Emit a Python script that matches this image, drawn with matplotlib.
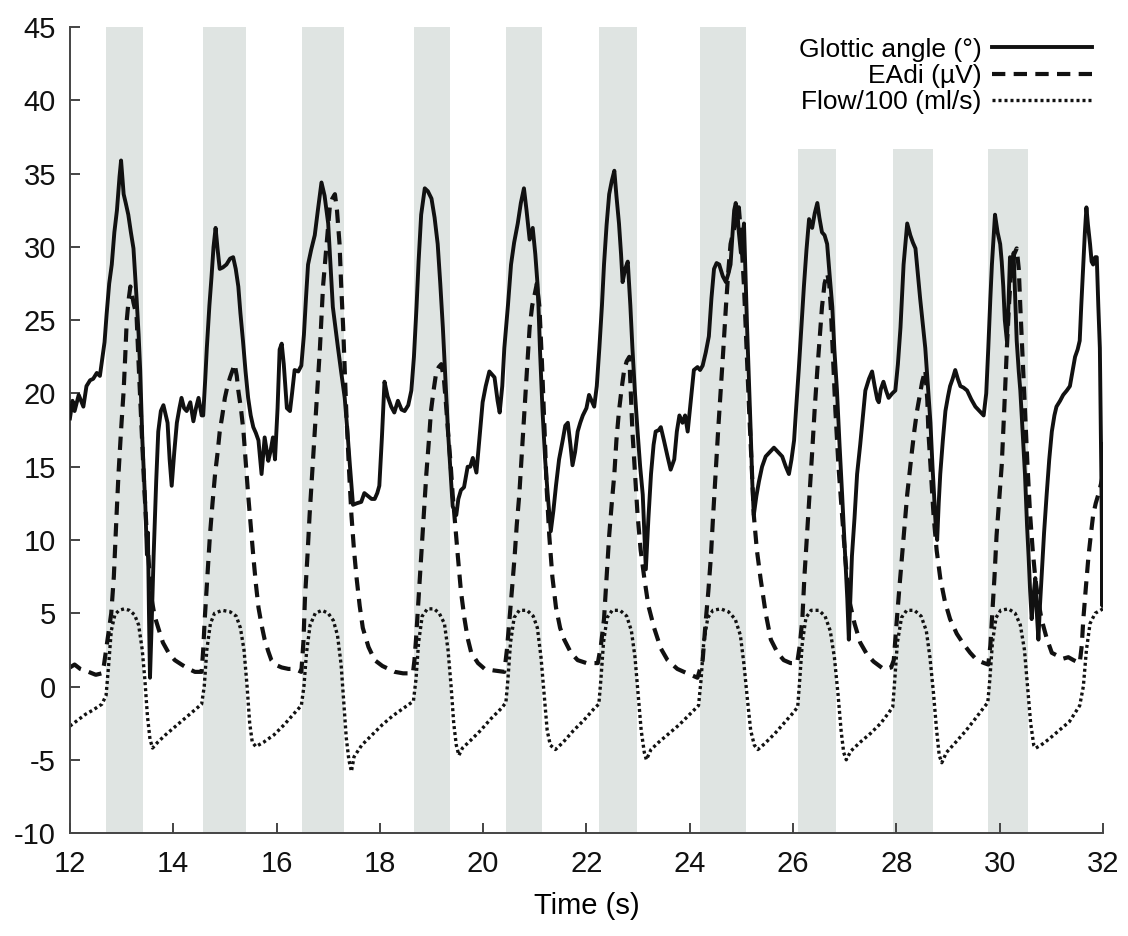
import matplotlib
matplotlib.use("Agg")
import matplotlib.pyplot as plt

plt.rcParams["font.family"] = ["Liberation Sans", "DejaVu Sans"]
plt.rcParams["axes.unicode_minus"] = False

# inspiration bands (s) and their top (legend area cuts the last three)
band_start = [12.70, 14.57, 16.50, 18.67, 20.44, 22.24, 24.19, 26.09, 27.94, 29.78]
band_end = [13.41, 15.40, 17.31, 19.36, 21.14, 22.98, 25.08, 26.84, 28.71, 30.55]
band_top = [45, 45, 45, 45, 45, 45, 45, 36.7, 36.7, 36.7]

# glottic angle (deg)
glottic_t = [
    12.00, 12.05, 12.09, 12.17, 12.26, 12.32, 12.39, 12.45, 12.52, 12.58, 12.62, 12.67, 12.71, 12.76,
    12.81, 12.86, 12.91, 12.96, 12.99, 13.02, 13.04, 13.08, 13.13, 13.18, 13.23, 13.29, 13.33, 13.36,
    13.40, 13.46, 13.49, 13.51, 13.53, 13.55, 13.58, 13.62, 13.67, 13.71, 13.76, 13.81, 13.85, 13.89,
    13.93, 13.97, 14.02, 14.07, 14.12, 14.16, 14.21, 14.26, 14.33, 14.39, 14.44, 14.49, 14.55, 14.58,
    14.62, 14.65, 14.70, 14.74, 14.78, 14.82, 14.86, 14.90, 14.96, 15.03, 15.10, 15.16, 15.21, 15.26,
    15.30, 15.35, 15.40, 15.45, 15.50, 15.55, 15.60, 15.65, 15.71, 15.77, 15.84, 15.88, 15.93, 15.97,
    16.02, 16.06, 16.10, 16.14, 16.20, 16.26, 16.30, 16.35, 16.42, 16.48, 16.53, 16.57, 16.61, 16.67,
    16.74, 16.80, 16.87, 16.93, 17.00, 17.05, 17.09, 17.14, 17.19, 17.25, 17.32, 17.37, 17.42, 17.48,
    17.55, 17.64, 17.70, 17.77, 17.84, 17.90, 17.95, 17.99, 18.04, 18.09, 18.15, 18.22, 18.28, 18.35,
    18.42, 18.48, 18.55, 18.61, 18.66, 18.71, 18.75, 18.80, 18.87, 18.93, 19.00, 19.06, 19.12, 19.17,
    19.22, 19.27, 19.32, 19.37, 19.41, 19.48, 19.52, 19.57, 19.63, 19.70, 19.75, 19.80, 19.87, 19.93,
    19.99, 20.05, 20.12, 20.17, 20.22, 20.28, 20.32, 20.37, 20.41, 20.48, 20.54, 20.60, 20.67, 20.73,
    20.79, 20.84, 20.90, 20.96, 21.01, 21.06, 21.10, 21.15, 21.20, 21.25, 21.31, 21.36, 21.41, 21.47,
    21.54, 21.59, 21.64, 21.69, 21.73, 21.78, 21.83, 21.88, 21.93, 22.00, 22.05, 22.10, 22.15, 22.20,
    22.25, 22.30, 22.34, 22.39, 22.44, 22.49, 22.54, 22.58, 22.63, 22.67, 22.70, 22.75, 22.80, 22.85,
    22.89, 22.94, 22.99, 23.04, 23.09, 23.12, 23.15, 23.20, 23.25, 23.30, 23.34, 23.40, 23.44, 23.50,
    23.57, 23.63, 23.70, 23.75, 23.80, 23.86, 23.91, 23.96, 24.02, 24.08, 24.15, 24.20, 24.25, 24.31,
    24.37, 24.42, 24.47, 24.52, 24.57, 24.64, 24.70, 24.75, 24.79, 24.83, 24.86, 24.89, 24.92, 24.95,
    24.99, 25.02, 25.05, 25.08, 25.11, 25.15, 25.18, 25.21, 25.24, 25.29, 25.34, 25.40, 25.47, 25.55,
    25.63, 25.71, 25.79, 25.86, 25.92, 25.97, 26.02, 26.06, 26.11, 26.16, 26.21, 26.26, 26.31, 26.37,
    26.42, 26.47, 26.51, 26.56, 26.61, 26.66, 26.71, 26.76, 26.80, 26.85, 26.90, 26.95, 27.00, 27.05,
    27.08, 27.11, 27.14, 27.19, 27.24, 27.30, 27.34, 27.40, 27.47, 27.53, 27.58, 27.63, 27.66, 27.70,
    27.75, 27.80, 27.85, 27.92, 27.98, 28.03, 28.08, 28.14, 28.21, 28.27, 28.32, 28.37, 28.42, 28.46,
    28.51, 28.56, 28.61, 28.66, 28.70, 28.73, 28.76, 28.79, 28.82, 28.85, 28.90, 28.95, 29.00, 29.04,
    29.09, 29.14, 29.19, 29.24, 29.30, 29.37, 29.45, 29.53, 29.61, 29.69, 29.74, 29.78, 29.82, 29.85,
    29.88, 29.91, 29.96, 30.01, 30.04, 30.07, 30.10, 30.14, 30.17, 30.20, 30.24, 30.27, 30.30, 30.33,
    30.37, 30.40, 30.45, 30.49, 30.53, 30.56, 30.59, 30.62, 30.65, 30.69, 30.72, 30.75, 30.78, 30.81,
    30.86, 30.91, 30.96, 31.01, 31.06, 31.10, 31.17, 31.23, 31.30, 31.36, 31.41, 31.46, 31.51, 31.55,
    31.58, 31.62, 31.65, 31.68, 31.71, 31.75, 31.78, 31.81, 31.85, 31.88, 31.91, 31.94, 31.97, 31.99,
    32.00]
glottic_v = [
    18.3, 19.5, 18.8, 19.9, 19.1, 20.5, 20.9, 21.0, 21.4, 21.2, 22.2, 23.5, 25.4, 27.5,
    28.8, 31.0, 32.5, 34.8, 35.9, 34.5, 33.6, 33.0, 32.2, 31.0, 29.9, 26.5, 24.0, 21.6,
    17.0, 12.3, 9.0, 10.5, 5.0, 0.6, 4.0, 8.9, 14.0, 17.4, 18.8, 19.2, 18.6, 18.0,
    15.5, 13.7, 16.0, 18.0, 19.0, 19.7, 19.0, 18.8, 19.4, 18.1, 19.0, 19.7, 18.5, 18.5,
    21.0, 23.1, 26.0, 27.9, 30.0, 31.3, 29.8, 28.5, 28.6, 28.8, 29.2, 29.3, 28.5, 27.3,
    25.5, 23.6, 21.5, 19.7, 18.5, 17.7, 17.3, 16.8, 14.5, 17.0, 15.4, 16.0, 17.0, 15.5,
    19.0, 23.0, 23.4, 22.0, 19.0, 18.8, 20.0, 21.6, 21.5, 21.9, 24.0, 26.5, 28.8, 29.8,
    30.8, 32.5, 34.4, 33.5, 31.6, 28.5, 25.9, 24.5, 23.1, 21.5, 19.7, 17.5, 15.1, 12.4,
    12.5, 12.6, 13.2, 13.0, 12.8, 12.8, 13.2, 13.7, 17.0, 20.8, 19.8, 19.1, 18.7, 19.5,
    18.9, 18.8, 19.2, 20.2, 22.5, 25.9, 29.0, 32.2, 34.0, 33.8, 33.3, 32.0, 30.2, 27.5,
    24.5, 21.0, 17.4, 14.5, 12.3, 11.7, 12.8, 13.4, 13.6, 15.0, 15.0, 15.6, 14.6, 17.0,
    19.4, 20.5, 21.5, 21.3, 21.1, 19.5, 18.7, 20.5, 23.1, 26.0, 28.8, 30.3, 31.6, 33.0,
    34.0, 32.5, 30.5, 31.3, 29.5, 27.1, 23.0, 18.8, 15.5, 13.1, 10.6, 12.0, 13.7, 15.5,
    16.8, 17.8, 18.0, 16.5, 15.1, 16.0, 17.4, 18.0, 18.5, 19.0, 19.9, 19.5, 19.1, 20.5,
    23.1, 26.0, 28.8, 31.5, 33.6, 34.5, 35.2, 33.5, 31.6, 29.5, 27.6, 28.5, 29.0, 26.0,
    23.1, 20.0, 17.4, 15.0, 13.1, 10.5, 8.0, 11.5, 14.5, 16.5, 17.4, 17.5, 17.7, 16.8,
    15.7, 14.8, 15.5, 17.4, 18.5, 18.0, 18.5, 17.4, 19.5, 21.6, 21.8, 21.6, 21.9, 22.8,
    23.9, 26.5, 28.5, 28.9, 28.8, 28.0, 27.6, 28.2, 28.8, 31.0, 32.5, 33.0, 32.5, 31.0,
    29.6, 30.5, 31.6, 28.0, 24.5, 20.5, 17.4, 14.0, 11.7, 13.0, 14.0, 15.0, 15.7, 16.0,
    16.3, 16.0, 15.7, 15.0, 14.5, 15.5, 16.8, 19.0, 21.6, 24.5, 27.3, 29.8, 31.9, 31.3,
    32.3, 33.0, 32.0, 31.0, 30.8, 30.2, 28.0, 25.9, 23.0, 20.2, 16.5, 13.1, 9.5, 6.0,
    3.2, 6.0, 8.9, 11.5, 14.5, 16.5, 18.0, 20.2, 21.0, 21.5, 20.5, 19.6, 19.4, 20.3,
    20.8, 20.2, 19.7, 20.0, 20.2, 22.0, 24.5, 28.8, 31.6, 30.8, 30.3, 29.9, 28.0, 26.5,
    24.8, 23.1, 20.5, 18.0, 15.0, 13.1, 11.0, 10.0, 12.5, 14.5, 16.8, 18.8, 19.8, 20.5,
    21.0, 21.6, 21.0, 20.5, 20.4, 20.2, 19.6, 19.1, 18.8, 18.5, 20.0, 23.1, 26.5, 28.8,
    30.5, 32.2, 31.0, 30.2, 29.0, 27.3, 25.0, 23.6, 26.0, 29.3, 28.0, 29.6, 26.5, 23.6,
    21.5, 20.2, 17.0, 14.5, 11.0, 8.9, 6.5, 4.6, 6.0, 7.4, 5.0, 3.2, 5.5, 7.4,
    10.5, 13.1, 15.5, 17.4, 18.5, 19.1, 19.5, 19.9, 20.2, 20.5, 21.5, 22.5, 23.0, 23.6,
    26.0, 28.8, 31.0, 32.7, 31.5, 30.2, 29.0, 28.8, 29.3, 29.3, 26.0, 23.1, 14.0, 5.5,
    16.5]

# diaphragm electrical activity (uV)
eadi_t = [
    12.00, 12.09, 12.20, 12.36, 12.50, 12.62, 12.66, 12.72, 12.80, 12.85, 12.90, 12.94, 12.99, 13.04,
    13.07, 13.10, 13.14, 13.17, 13.20, 13.23, 13.29, 13.33, 13.39, 13.44, 13.49, 13.54, 13.58, 13.64,
    13.71, 13.80, 13.91, 14.03, 14.16, 14.30, 14.42, 14.55, 14.58, 14.61, 14.66, 14.71, 14.76, 14.81,
    14.86, 14.90, 14.95, 15.00, 15.05, 15.10, 15.15, 15.19, 15.23, 15.26, 15.31, 15.36, 15.40, 15.45,
    15.50, 15.55, 15.60, 15.65, 15.71, 15.77, 15.84, 15.90, 15.97, 16.10, 16.23, 16.35, 16.48, 16.52,
    16.55, 16.60, 16.64, 16.69, 16.74, 16.79, 16.84, 16.90, 16.97, 17.03, 17.08, 17.13, 17.17, 17.22,
    17.25, 17.29, 17.35, 17.40, 17.45, 17.50, 17.55, 17.61, 17.67, 17.78, 17.90, 18.05, 18.29, 18.45,
    18.64, 18.67, 18.70, 18.75, 18.80, 18.85, 18.90, 18.95, 18.99, 19.04, 19.09, 19.14, 19.19, 19.24,
    19.28, 19.32, 19.37, 19.41, 19.46, 19.51, 19.57, 19.64, 19.70, 19.77, 19.90, 20.03, 20.20, 20.41,
    20.46, 20.51, 20.56, 20.61, 20.65, 20.70, 20.75, 20.80, 20.85, 20.90, 20.95, 21.00, 21.04, 21.09,
    21.14, 21.19, 21.23, 21.28, 21.34, 21.41, 21.49, 21.57, 21.70, 21.83, 22.00, 22.22, 22.28, 22.34,
    22.39, 22.44, 22.49, 22.54, 22.58, 22.63, 22.68, 22.73, 22.78, 22.83, 22.86, 22.89, 22.94, 22.99,
    23.05, 23.12, 23.20, 23.31, 23.44, 23.57, 23.76, 23.95, 24.15, 24.25, 24.31, 24.36, 24.41, 24.45,
    24.50, 24.55, 24.60, 24.65, 24.70, 24.75, 24.79, 24.84, 24.89, 24.95, 25.00, 25.05, 25.10, 25.15,
    25.20, 25.24, 25.30, 25.37, 25.47, 25.57, 25.70, 25.82, 25.95, 26.08, 26.13, 26.18, 26.22, 26.27,
    26.32, 26.37, 26.42, 26.47, 26.52, 26.56, 26.61, 26.66, 26.70, 26.73, 26.78, 26.82, 26.88, 26.95,
    27.01, 27.08, 27.19, 27.30, 27.43, 27.56, 27.75, 27.90, 27.95, 28.01, 28.06, 28.11, 28.16, 28.21,
    28.26, 28.30, 28.35, 28.40, 28.45, 28.50, 28.56, 28.60, 28.62, 28.67, 28.72, 28.78, 28.85, 28.94,
    29.04, 29.17, 29.30, 29.43, 29.56, 29.70, 29.78, 29.82, 29.85, 29.90, 29.94, 29.99, 30.04, 30.09,
    30.14, 30.18, 30.23, 30.28, 30.33, 30.37, 30.40, 30.45, 30.49, 30.54, 30.59, 30.64, 30.69, 30.75,
    30.81, 30.91, 31.01, 31.12, 31.23, 31.33, 31.43, 31.55, 31.59, 31.62, 31.67, 31.72, 31.77, 31.81,
    31.86, 31.91, 31.96, 32.00]
eadi_v = [
    1.3, 1.5, 1.2, 1.0, 0.8, 0.9, 1.5, 3.0, 5.0, 7.5, 11.5, 14.5, 17.5, 20.2,
    22.5, 25.0, 26.5, 27.3, 26.8, 26.2, 25.3, 22.0, 17.4, 13.5, 10.3, 7.8, 6.0, 4.8,
    4.0, 3.0, 2.3, 1.8, 1.5, 1.2, 1.0, 1.0, 2.5, 4.6, 7.5, 10.3, 12.5, 14.5,
    16.0, 17.4, 18.5, 19.7, 20.5, 21.1, 21.6, 22.0, 21.2, 20.2, 19.0, 17.4, 15.5, 13.1,
    11.0, 8.9, 7.0, 5.4, 4.2, 3.2, 2.4, 1.8, 1.5, 1.3, 1.2, 1.2, 1.0, 3.0,
    6.0, 9.0, 11.7, 14.5, 17.4, 20.3, 23.1, 27.3, 30.2, 32.7, 33.3, 33.6, 32.5, 30.2,
    27.5, 24.5, 18.8, 15.0, 11.7, 9.3, 7.4, 5.5, 4.0, 2.7, 1.8, 1.4, 1.0, 0.9,
    0.9, 1.8, 3.2, 6.0, 8.9, 11.7, 14.5, 16.8, 18.8, 20.2, 21.4, 21.8, 22.0, 21.0,
    19.3, 17.4, 15.2, 13.1, 11.0, 8.9, 6.5, 4.6, 3.3, 2.3, 1.6, 1.2, 1.1, 1.0,
    2.5, 4.6, 6.7, 8.9, 11.0, 13.1, 16.0, 18.8, 21.7, 24.5, 26.0, 26.8, 27.5, 25.9,
    22.0, 17.4, 13.5, 10.3, 7.5, 5.4, 4.0, 3.2, 2.3, 1.8, 1.6, 1.6, 2.8, 4.6,
    7.5, 10.3, 12.5, 14.5, 16.8, 18.8, 20.3, 21.6, 22.2, 22.5, 20.0, 17.4, 14.5, 11.7,
    9.3, 7.4, 5.5, 4.0, 2.6, 1.8, 1.2, 0.9, 0.6, 1.8, 4.5, 6.5, 8.9, 11.5,
    14.5, 17.5, 20.2, 23.0, 25.9, 28.5, 30.2, 31.0, 31.6, 32.7, 30.5, 27.3, 23.0, 18.8,
    15.0, 11.7, 9.3, 7.4, 5.0, 3.2, 2.3, 1.8, 1.6, 1.6, 2.8, 4.6, 7.5, 10.3,
    13.0, 16.0, 19.0, 21.6, 24.0, 25.9, 27.5, 28.2, 27.5, 25.9, 22.0, 18.8, 15.0, 11.7,
    8.8, 6.0, 4.3, 3.0, 2.2, 1.7, 1.2, 1.3, 1.8, 4.6, 6.8, 8.9, 11.0, 13.1,
    14.7, 16.0, 17.5, 18.8, 19.8, 20.8, 21.6, 19.5, 17.4, 14.5, 11.7, 9.3, 7.4, 5.8,
    4.6, 3.6, 2.9, 2.3, 1.8, 1.6, 1.5, 2.8, 4.6, 7.5, 10.3, 12.7, 15.1, 19.0,
    23.1, 26.0, 28.8, 29.5, 29.9, 28.5, 25.9, 22.0, 18.8, 15.0, 11.7, 9.3, 7.4, 5.8,
    4.6, 3.3, 2.3, 2.1, 1.9, 2.0, 1.8, 1.6, 2.8, 4.6, 6.8, 8.9, 10.5, 11.7,
    12.5, 13.1, 13.8, 14.5]

# flow / 100 (ml/s)
flow_t = [
    12.00, 12.15, 12.30, 12.45, 12.62, 12.70, 12.75, 12.80, 12.87, 12.95, 13.05, 13.15, 13.25, 13.33,
    13.40, 13.45, 13.50, 13.55, 13.60, 13.70, 13.85, 14.05, 14.25, 14.45, 14.55,
    14.60, 14.65, 14.72, 14.80, 14.95, 15.10, 15.22, 15.30, 15.37, 15.43, 15.48, 15.53, 15.60, 15.75,
    15.95, 16.15, 16.35, 16.48,
    16.53, 16.58, 16.65, 16.75, 16.88, 17.00, 17.10, 17.18, 17.25, 17.30, 17.35, 17.40, 17.45, 17.50,
    17.65, 17.85, 18.05, 18.25, 18.45, 18.65,
    18.70, 18.75, 18.82, 18.92, 19.05, 19.15, 19.25, 19.32, 19.38, 19.43, 19.48, 19.53, 19.60, 19.75,
    19.95, 20.15, 20.35, 20.44,
    20.48, 20.53, 20.60, 20.70, 20.85, 20.97, 21.05, 21.12, 21.18, 21.24, 21.30, 21.40, 21.55, 21.75,
    21.95, 22.15, 22.24,
    22.28, 22.33, 22.40, 22.50, 22.65, 22.78, 22.87, 22.94, 23.00, 23.06, 23.12, 23.16, 23.25, 23.40,
    23.60, 23.80, 24.00, 24.17,
    24.22, 24.27, 24.35, 24.45, 24.60, 24.75, 24.88, 24.98, 25.05, 25.12, 25.18, 25.25, 25.32, 25.45,
    25.65, 25.85, 26.00, 26.09,
    26.13, 26.18, 26.25, 26.35, 26.50, 26.62, 26.72, 26.80, 26.87, 26.93, 26.98, 27.03, 27.12, 27.30,
    27.50, 27.70, 27.85, 27.93,
    27.97, 28.02, 28.10, 28.20, 28.35, 28.48, 28.58, 28.65, 28.72, 28.78, 28.83, 28.88, 28.97, 29.15,
    29.35, 29.55, 29.70, 29.77,
    29.81, 29.86, 29.93, 30.02, 30.17, 30.30, 30.40, 30.48, 30.54, 30.60, 30.66, 30.70, 30.80, 30.95,
    31.15, 31.35, 31.55, 31.62, 31.68, 31.75, 31.85, 32.00]
flow_v = [
    -2.7, -2.3, -1.9, -1.6, -1.2, -0.6, 1.5, 3.8, 4.9, 5.2, 5.3, 5.2, 4.9, 4.2,
    2.5, 0.5, -2.0, -3.6, -4.2, -3.8, -3.3, -2.7, -2.1, -1.5, -1.2,
    0.0, 2.5, 4.3, 5.0, 5.2, 5.1, 4.8, 4.0, 2.5, 0.0, -2.5, -3.8, -4.1, -3.8,
    -3.3, -2.6, -1.8, -1.3,
    0.0, 2.3, 4.2, 5.0, 5.2, 5.0, 4.5, 3.5, 1.5, -1.0, -3.5, -5.0, -5.8, -4.8,
    -4.0, -3.3, -2.6, -2.0, -1.5, -1.0,
    0.5, 3.0, 4.8, 5.3, 5.3, 5.0, 4.3, 2.5, 0.0, -2.5, -4.0, -4.7, -4.2, -3.7,
    -3.0, -2.2, -1.5, -1.1,
    0.5, 3.0, 4.7, 5.2, 5.2, 4.8, 4.0, 2.0, -0.5, -3.0, -4.0, -4.3, -3.8, -3.0,
    -2.3, -1.5, -1.2,
    0.5, 3.0, 4.7, 5.2, 5.2, 4.8, 3.8, 2.0, -0.5, -3.0, -4.5, -5.0, -4.3, -3.8,
    -3.2, -2.6, -1.9, -1.3,
    0.5, 3.0, 4.7, 5.2, 5.3, 5.1, 4.6, 3.5, 1.5, -1.0, -3.0, -4.0, -4.3, -3.9,
    -3.2, -2.4, -1.8, -1.4,
    0.5, 3.0, 4.7, 5.2, 5.2, 4.8, 3.8, 2.0, -0.5, -3.0, -4.5, -5.0, -4.4, -3.8,
    -3.2, -2.5, -1.8, -1.4,
    0.5, 3.0, 4.7, 5.2, 5.2, 4.8, 3.8, 2.0, -0.5, -3.0, -4.7, -5.2, -4.5, -3.8,
    -3.0, -2.1, -1.4, -1.1,
    0.5, 3.0, 4.7, 5.2, 5.3, 5.0, 4.2, 2.5, 0.0, -2.5, -4.0, -4.2, -4.0, -3.6,
    -3.0, -2.4, -1.3, 0.0, 2.5, 4.3, 5.0, 5.3]

fig = plt.figure(figsize=(11.28, 9.36), dpi=100)
ax = fig.add_axes([0.0620, 0.110, 0.9158, 0.861])

for b0, b1, top in zip(band_start, band_end, band_top):
    ax.bar(b0, top - (-10), bottom=-10, width=b1 - b0, align="edge",
           color="#dfe4e2", edgecolor="none", zorder=0)

l1, = ax.plot(glottic_t, glottic_v, color="#111111", lw=2.8, zorder=3,
              label="Glottic angle (°)")
l2, = ax.plot(eadi_t, eadi_v, color="#111111", lw=3.0, ls=(0, (3.2, 2.0)), zorder=2,
              label="EAdi (µV)")
l3, = ax.plot(flow_t, flow_v, color="#111111", lw=2.4, ls=(0, (0.9, 0.9)), zorder=2,
              label="Flow/100 (ml/s)")

ax.set_xlim(12, 32)
ax.set_ylim(-10, 45)
ax.set_xticks(range(12, 33, 2))
ax.set_yticks(range(-10, 46, 5))
ax.spines["top"].set_visible(False)
ax.spines["right"].set_visible(False)
for s in ("left", "bottom"):
    ax.spines[s].set_linewidth(1.4)
    ax.spines[s].set_color("#444444")
ax.tick_params(direction="in", length=7, width=1.4, labelsize=21, colors="#444444",
               labelcolor="#111111")
ax.tick_params(axis="y", pad=10)
ax.tick_params(axis="x", pad=12)
ax.set_xlabel("Time (s)", fontsize=21, labelpad=10)

leg = ax.legend(handles=[l1, l2, l3], loc="upper right", bbox_to_anchor=(1.0, 1.0),
                markerfirst=False, frameon=False, fontsize=19, handlelength=3.8,
                handletextpad=0.4, labelspacing=0.08, borderaxespad=0.0)
for t in leg.get_texts():
    t.set_ha("right")
leg._legend_box.align = "right"

fig.savefig("out.png", dpi=100)
